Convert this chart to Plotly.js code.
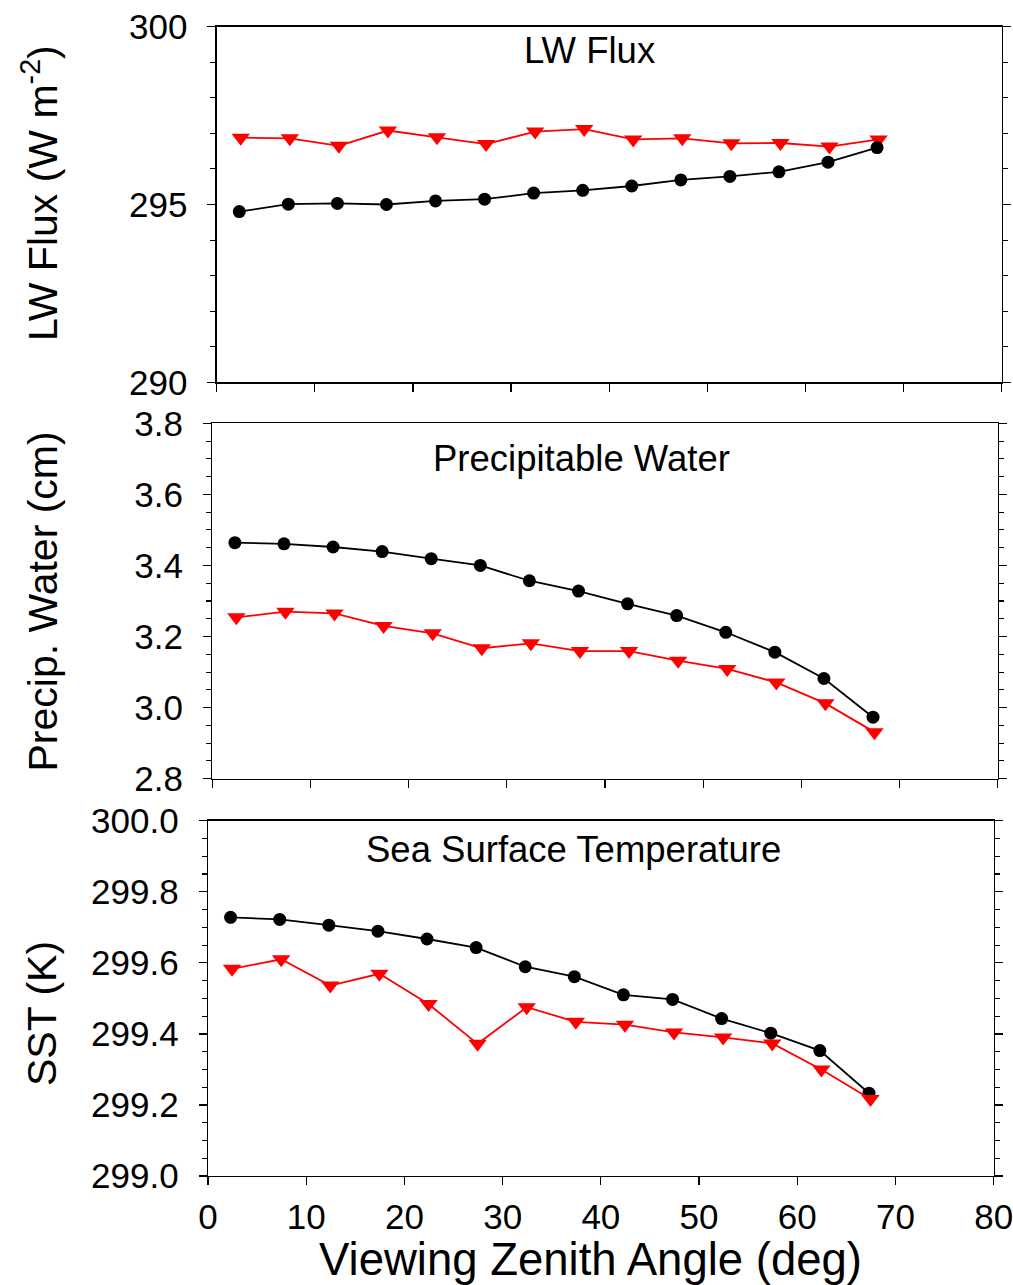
<!DOCTYPE html>
<html>
<head>
<meta charset="utf-8">
<script src="https://cdn.plot.ly/plotly-3.0.1.min.js"></script>
<style>html,body{margin:0;padding:0;background:#fff;}#chart{width:1013px;height:1285px;}</style>
</head>
<body>
<div id="chart"></div>
<script>
// Viewing zenith angle (deg) of each bin
const angleBlack = [2.3, 7.3, 12.3, 17.3, 22.3, 27.3, 32.3, 37.3, 42.3, 47.3, 52.3, 57.3, 62.3, 67.3];
const angleRed   = [2.45, 7.45, 12.45, 17.45, 22.45, 27.45, 32.45, 37.45, 42.45, 47.45, 52.45, 57.45, 62.45, 67.45];

// LW Flux (W m-2)
const lwBlack = [294.80, 295.01, 295.03, 295.00, 295.10, 295.15, 295.32, 295.40, 295.52, 295.69, 295.79, 295.92, 296.19, 296.60];
const lwRed   = [296.88, 296.86, 296.65, 297.08, 296.89, 296.70, 297.05, 297.12, 296.83, 296.86, 296.72, 296.73, 296.63, 296.83];

// Precipitable water (cm)
const pwBlack = [3.464, 3.461, 3.452, 3.439, 3.419, 3.400, 3.357, 3.328, 3.292, 3.259, 3.212, 3.156, 3.082, 2.973];
const pwRed   = [3.254, 3.270, 3.265, 3.230, 3.209, 3.167, 3.181, 3.159, 3.159, 3.132, 3.109, 3.071, 3.012, 2.931];

// Sea surface temperature (K)
const sstBlack = [299.728, 299.722, 299.706, 299.689, 299.667, 299.643, 299.589, 299.561, 299.510, 299.497, 299.443, 299.402, 299.353, 299.233];
const sstRed   = [299.583, 299.610, 299.536, 299.569, 299.484, 299.372, 299.475, 299.434, 299.426, 299.404, 299.390, 299.373, 299.300, 299.217];

// Tick labels
const xTickVals = [0, 10, 20, 30, 40, 50, 60, 70, 80];
const xTickText = ['0', '10', '20', '30', '40', '50', '60', '70', '80'];
const lwTickVals = [290, 295, 300];
const lwTickText = ['290', '295', '300'];
const pwTickVals = [2.8, 3.0, 3.2, 3.4, 3.6, 3.8];
const pwTickText = ['2.8', '3.0', '3.2', '3.4', '3.6', '3.8'];
const sstTickVals = [299.0, 299.2, 299.4, 299.6, 299.8, 300.0];
const sstTickText = ['299.0', '299.2', '299.4', '299.6', '299.8', '300.0'];

const FONT = 'Arial, "Liberation Sans", sans-serif';

function blackTrace(x, y, xa, ya) {
  return {x: x, y: y, xaxis: xa, yaxis: ya, type: 'scatter', mode: 'lines+markers',
    line: {color: '#000000', width: 1.8},
    marker: {symbol: 'circle', size: 13, color: '#000000'}, hoverinfo: 'skip', showlegend: false};
}
function redTrace(x, y, xa, ya) {
  return {x: x, y: y, xaxis: xa, yaxis: ya, type: 'scatter', mode: 'lines+markers',
    line: {color: '#ff0000', width: 1.8},
    marker: {symbol: 'triangle-down', size: 16, color: '#ff0000'}, hoverinfo: 'skip', showlegend: false};
}

const data = [
  redTrace(angleRed, lwRed, 'x', 'y'),
  blackTrace(angleBlack, lwBlack, 'x', 'y'),
  blackTrace(angleBlack, pwBlack, 'x2', 'y2'),
  redTrace(angleRed, pwRed, 'x2', 'y2'),
  blackTrace(angleBlack, sstBlack, 'x3', 'y3'),
  redTrace(angleRed, sstRed, 'x3', 'y3')
];

function xAxis(domain, anchor, showLabels) {
  return {domain: domain, anchor: anchor, range: [0, 80], tickmode: 'array',
    tickvals: xTickVals, ticktext: xTickText, showticklabels: showLabels,
    ticks: 'outside', ticklen: 8, tickwidth: 1.3, tickcolor: '#000',
    showline: true, linecolor: '#000', linewidth: 1.3, mirror: true,
    showgrid: false, zeroline: false, automargin: false, ticklabeloverflow: 'allow',
    tickfont: {family: FONT, size: 35, color: '#000'}, ticklabelstandoff: 2};
}
function yAxis(domain, anchor, range, vals, text, minorDtick) {
  return {domain: domain, anchor: anchor, range: range, tickmode: 'array',
    tickvals: vals, ticktext: text,
    ticks: 'outside', ticklen: 8, tickwidth: 1.3, tickcolor: '#000',
    minor: {dtick: minorDtick, ticks: 'outside', ticklen: 5, tickwidth: 1.1, tickcolor: '#000', showgrid: false},
    showline: true, linecolor: '#000', linewidth: 1.3, mirror: 'ticks',
    showgrid: false, zeroline: false, automargin: false, ticklabeloverflow: 'allow',
    tickfont: {family: FONT, size: 35, color: '#000'}, ticklabelstandoff: 13};
}

const layout = {
  width: 1013, height: 1285,
  margin: {l: 0, r: 0, t: 0, b: 0, pad: 0},
  paper_bgcolor: '#ffffff', plot_bgcolor: '#ffffff',
  showlegend: false,
  xaxis:  xAxis([216.7/1013, 1001.7/1013], 'y', false),
  xaxis2: xAxis([212.3/1013, 997.7/1013], 'y2', false),
  xaxis3: xAxis([208/1013, 993.7/1013], 'y3', true),
  yaxis:  yAxis([1 - 382.3/1285, 1 - 26.7/1285], 'x', [290, 300], lwTickVals, lwTickText, 1),
  yaxis2: yAxis([1 - 778.7/1285, 1 - 423.3/1285], 'x2', [2.8, 3.8], pwTickVals, pwTickText, 0.05),
  yaxis3: yAxis([1 - 1176/1285, 1 - 820.7/1285], 'x3', [299.0, 300.0], sstTickVals, sstTickText, 0.05),
  annotations: [
    {text: 'LW Flux', xref: 'paper', yref: 'paper', x: 589/1013, y: 1 - 50.5/1285, xanchor: 'center', yanchor: 'middle', showarrow: false, font: {family: FONT, size: 36.5, color: '#000'}},
    {text: 'Precipitable Water', xref: 'paper', yref: 'paper', x: 581/1013, y: 1 - 458/1285, xanchor: 'center', yanchor: 'middle', showarrow: false, font: {family: FONT, size: 36.5, color: '#000'}},
    {text: 'Sea Surface Temperature', xref: 'paper', yref: 'paper', x: 573/1013, y: 1 - 849/1285, xanchor: 'center', yanchor: 'middle', showarrow: false, font: {family: FONT, size: 36.5, color: '#000'}},
    {text: 'LW Flux (W m<sup>-2</sup>)', xref: 'paper', yref: 'paper', x: 40/1013, y: 1 - 193/1285, xanchor: 'center', yanchor: 'middle', textangle: -90, showarrow: false, font: {family: FONT, size: 41, color: '#000'}},
    {text: 'Precip. Water (cm)', xref: 'paper', yref: 'paper', x: 42/1013, y: 1 - 601.5/1285, xanchor: 'center', yanchor: 'middle', textangle: -90, showarrow: false, font: {family: FONT, size: 41, color: '#000'}},
    {text: 'SST (K)', xref: 'paper', yref: 'paper', x: 42/1013, y: 1 - 1014/1285, xanchor: 'center', yanchor: 'middle', textangle: -90, showarrow: false, font: {family: FONT, size: 41, color: '#000'}},
    {text: 'Viewing Zenith Angle (deg)', xref: 'paper', yref: 'paper', x: 590/1013, y: 1 - 1259/1285, xanchor: 'center', yanchor: 'middle', showarrow: false, font: {family: FONT, size: 45.5, color: '#000'}}
  ]
};

Plotly.newPlot('chart', data, layout, {staticPlot: true, displayModeBar: false});
</script>
</body>
</html>
